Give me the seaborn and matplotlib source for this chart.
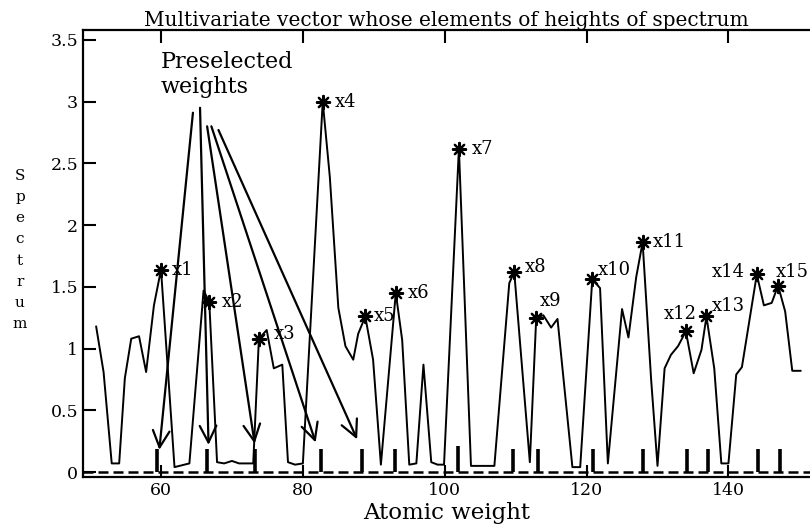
import numpy as np
import pandas as pd
import matplotlib
matplotlib.use('Agg')
import matplotlib.pyplot as plt
import seaborn as sns

# spectrum polyline (atomic weight, height)
spec_x = [50.85, 51.9, 53.05, 54.1, 54.9, 55.8, 56.9, 57.9, 59.0, 60.0, 61.9, 64.0,
          66.0, 66.8, 67.9, 68.9, 70.0, 71.0, 73.0, 73.8, 74.9, 75.9, 77.1, 77.9,
          78.9, 80.0, 82.8, 83.8, 85.0, 86.0, 87.1, 87.8, 88.8, 89.9, 91.0, 93.1,
          94.0, 95.0, 96.0, 97.0, 98.1, 99.0, 99.9, 102.0, 103.7, 107.0, 109.1,
          109.8, 112.0, 112.9, 113.9, 115.0, 115.9, 118.0, 119.1, 120.8, 121.9,
          123.0, 125.0, 125.9, 127.0, 127.9, 129.1, 130.0, 131.0, 131.9, 132.9,
          134.0, 135.1, 136.2, 136.9, 138.0, 139.0, 140.0, 141.1, 141.9, 144.0,
          145.0, 146.1, 147.0, 148.0, 149.0, 150.2]
spec_y = [1.18, 0.81, 0.07, 0.07, 0.76, 1.08, 1.10, 0.81, 1.35, 1.64, 0.04, 0.07,
          1.47, 1.38, 0.08, 0.07, 0.09, 0.07, 0.07, 1.08, 1.15, 0.84, 0.87, 0.08,
          0.06, 0.07, 3.00, 2.39, 1.33, 1.02, 0.91, 1.12, 1.26, 0.91, 0.06, 1.45,
          1.07, 0.06, 0.07, 0.87, 0.08, 0.06, 0.06, 2.62, 0.05, 0.05, 1.53,
          1.62, 0.08, 1.25, 1.27, 1.17, 1.24, 0.04, 0.04, 1.56, 1.49,
          0.07, 1.32, 1.09, 1.58, 1.86, 0.75, 0.05, 0.84, 0.95, 1.02,
          1.14, 0.80, 0.99, 1.26, 0.84, 0.07, 0.07, 0.79, 0.85, 1.60,
          1.35, 1.37, 1.51, 1.30, 0.82, 0.82]

# selected peaks x1..x15
peak_labels = ['x1', 'x2', 'x3', 'x4', 'x5', 'x6', 'x7', 'x8', 'x9', 'x10',
               'x11', 'x12', 'x13', 'x14', 'x15']
peak_x = [60.0, 66.8, 73.8, 82.8, 88.8, 93.1, 102.0, 109.8, 112.9, 120.8,
          127.9, 134.0, 136.9, 144.0, 147.0]
peak_y = [1.64, 1.38, 1.08, 3.00, 1.26, 1.45, 2.62, 1.62, 1.25, 1.56,
          1.86, 1.14, 1.26, 1.60, 1.51]

# preselected weights (short bars on the baseline)
bar_x = [59.4, 66.5, 73.3, 82.5, 88.3, 93.0, 101.9, 109.6, 113.1, 120.9,
         127.9, 134.1, 137.1, 144.1, 147.2]
bar_h = [0.19, 0.19, 0.19, 0.19, 0.19, 0.19, 0.21, 0.19, 0.19, 0.19,
         0.19, 0.19, 0.19, 0.19, 0.19]

# arrows from the "Preselected weights" note
arrow_start = [(64.5, 2.91), (65.5, 2.95), (66.5, 2.80), (67.1, 2.80), (68.1, 2.77)]
arrow_end = [(59.76, 0.18), (66.7, 0.22), (73.2, 0.23), (81.8, 0.24), (87.65, 0.265)]

sns.set_theme(style='ticks')
plt.rcParams['font.family'] = ['DejaVu Serif']
plt.rcParams.update({'text.color': 'black', 'axes.labelcolor': 'black',
                     'xtick.color': 'black', 'ytick.color': 'black'})

fig = plt.figure(figsize=(8.1, 5.26), dpi=100)
ax = fig.add_axes([83 / 810, 49 / 526, 727 / 810, 447 / 526])

spec = pd.DataFrame({'weight': spec_x, 'height': spec_y})
sns.lineplot(data=spec, x='weight', y='height', color='black', lw=1.4,
             estimator=None, sort=False, ax=ax)

peaks = pd.DataFrame({'weight': peak_x, 'height': peak_y})
sns.scatterplot(data=peaks, x='weight', y='height', marker=(8, 2, 0), s=90,
                color='black', linewidth=1.6, ax=ax, zorder=4)

ax.vlines(bar_x, 0, bar_h, color='black', lw=2.6)
ax.axhline(0, color='black', lw=1.8, ls=(0, (4, 2)))

# label offsets in pixels
offs = [(11, 0, 'left'), (13, 0, 'left'), (15, 5, 'left'), (12, 0, 'left'),
        (8, 0, 'left'), (12, 0, 'left'), (13, 0, 'left'), (11, 5, 'left'),
        (4, 17, 'left'), (6, 9, 'left'), (10, 0, 'left'), (-6, 17, 'center'),
        (5, 10, 'left'), (-12, 2, 'right'), (-2, 14, 'left')]
for lab, px, py, (dx, dy, ha) in zip(peak_labels, peak_x, peak_y, offs):
    ax.annotate(lab, (px, py), xytext=(dx, dy), textcoords='offset pixels',
                ha=ha, va='center', fontsize=13)

for (sx, sy), (ex, ey) in zip(arrow_start, arrow_end):
    ax.annotate('', xy=(ex, ey), xytext=(sx, sy),
                arrowprops=dict(arrowstyle='->,head_length=1.0,head_width=0.5',
                                color='black', lw=1.6, shrinkA=0, shrinkB=0))

ax.text(59.9, 3.22, 'Preselected\nweights', fontsize=16, ha='left', va='center',
        linespacing=1.15)

ax.set_xlim(49, 151.5)
ax.set_ylim(-0.04, 3.58)
ax.set_xticks([60, 80, 100, 120, 140])
ax.set_yticks([0, 0.5, 1, 1.5, 2, 2.5, 3, 3.5])
ax.set_yticklabels(['0', '0.5', '1', '1.5', '2', '2.5', '3', '3.5'])
ax.tick_params(direction='in', length=9, width=1.5, labelsize=12.5, top=True,
               color='black')
for side in ['left', 'bottom', 'top']:
    ax.spines[side].set_linewidth(1.6)
    ax.spines[side].set_color('black')
ax.spines['right'].set_visible(False)

ax.set_xlabel('Atomic weight', fontsize=16.5, labelpad=2)
ax.set_ylabel('')
fig.text(20 / 810, 1 - 250 / 526, 'S\np\ne\nc\nt\nr\nu\nm', fontsize=11,
         ha='center', va='center', linespacing=1.65)
ax.set_title('Multivariate vector whose elements of heights of spectrum',
             fontsize=14.5, pad=3)

fig.savefig('out.png', dpi=100)
